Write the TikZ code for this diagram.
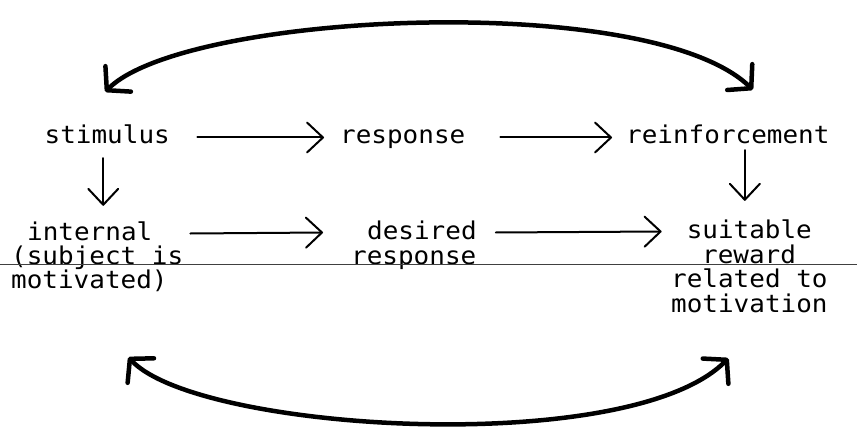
\documentclass[tikz,border=0pt]{standalone}
\usepackage{fontspec}
\newfontfamily\typewriter[FakeStretch=1.06]{DejaVu Sans Mono}
\usetikzlibrary{arrows.meta}
\begin{document}
\begin{tikzpicture}[x=1pt,y=-1pt,
  lbl/.style={anchor=base west,inner sep=0pt,
    font=\typewriter\fontsize{24.5}{24.5}\selectfont,
    text height=13pt,text depth=0pt},
  flow/.style={line width=2pt,line cap=round,
    -{Straight Barb[length=16pt,width=30pt,line cap=round,line join=round]}},
  loop/.style={line width=4.5pt,line cap=round,
    {Straight Barb[length=16pt,width=36pt,line cap=round,line join=round]}-{Straight Barb[length=16pt,width=36pt,line cap=round,line join=round]}},
  rule/.style={line width=0.9pt,black!75}]
\useasboundingbox (0,0) rectangle (857,433);

% upper chain
\node[lbl] (stim)  at (44.5,144) {stimulus};
\node[lbl] (resp)  at (340,144)  {response};
\node[lbl] (reinf) at (626,144)  {reinforcement};

% lower chain
\node[lbl] (int1)  at (27,240)  {internal};
\node[lbl] (int2)  at (11,264)  {(subject is};
\node[lbl] (int3)  at (11,288)  {motivated)};
\node[lbl] (des1)  at (367,239) {desired};
\node[lbl] (des2)  at (351,264) {response};
\node[lbl] (suit1) at (686.6,238) {suitable};
\node[lbl] (suit2) at (702,263)   {reward};
\node[lbl] (suit3) at (671,287)   {related to};
\node[lbl] (suit4) at (671,312)   {motivation};

% ruled line across the second row
\coordinate (ruleL) at (0,264);
\coordinate (ruleR) at (857,264);
\draw[rule] (ruleL) -- (ruleR);

% horizontal arrows
\draw[flow] ([xshift=27.5pt]stim.east) -- ([xshift=-16pt]resp.west);
\draw[flow] ([xshift=35pt]resp.east) -- ([xshift=-14pt]reinf.west);
\draw[flow] ([xshift=38pt]int1.east) -- ([xshift=-44pt]des1.west);
\draw[flow] ([xshift=19pt]des1.east) -- ([xshift=-25pt]suit1.west);

% vertical arrows
\coordinate (sa) at ([xshift=-4pt,yshift=-14pt]stim.south);
\coordinate (sb) at ([yshift=21pt]int1.north);
\draw[flow] (sa) -- (sa |- sb);
\coordinate (ra) at ([xshift=17pt,yshift=-6pt]reinf.south);
\coordinate (rb) at ([yshift=24pt]suit1.north);
\draw[flow] (ra) -- (ra |- rb);

% feedback loops
\coordinate (tl) at ([xshift=-2pt,yshift=39pt]stim.north);
\coordinate (tr) at ([xshift=25pt,yshift=41pt]reinf.north);
\draw[loop] (tl) .. controls (185,12) and (650,-10) .. (tr);
\coordinate (bl) at ([xshift=39pt,yshift=-69pt]int3.south);
\coordinate (br) at ([xshift=-21pt,yshift=-46pt]suit4.south);
\draw[loop] (bl) .. controls (198,432) and (630,458) .. (br);
\end{tikzpicture}
\end{document}
